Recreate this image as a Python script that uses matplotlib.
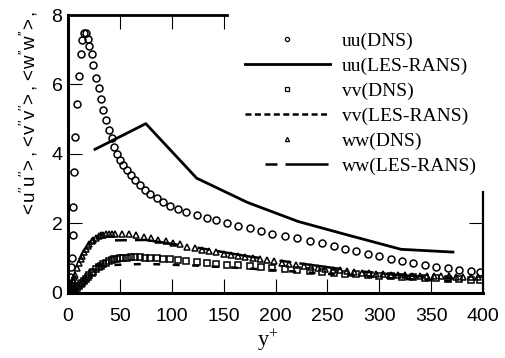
import matplotlib
matplotlib.use("Agg")
import matplotlib.pyplot as plt
from matplotlib.lines import Line2D

plt.rcParams['font.family'] = ['Liberation Sans', 'DejaVu Sans']
plt.rcParams['mathtext.fontset'] = 'custom'
plt.rcParams['mathtext.rm'] = 'Liberation Serif'
plt.rcParams['mathtext.it'] = 'Liberation Serif:italic'
plt.rcParams['mathtext.sf'] = 'Liberation Sans'
plt.rcParams['lines.scale_dashes'] = False

# ---- data ----
yplus_dns = [0.5, 1.2, 2.0, 2.8, 3.5, 4.5, 5.1, 5.8, 6.7, 9.0,
             10.6, 12.5, 13.8, 15.7, 17.4, 19.0, 20.6, 22.8, 24.4, 27.0,
             29.5, 31.5, 34.0, 36.6, 39.5, 42.0, 44.3, 46.9, 50.0, 53.3,
             56.5, 60.4, 64.6, 69.4, 74.2, 79.0, 85.5, 91.9, 98.3, 106,
             114, 124, 134, 143, 153, 164, 175, 186, 197, 209,
             221, 233, 245, 256, 267, 278, 289, 300, 311, 322,
             333, 344, 355, 366, 377, 388, 397]
uu_dns = [0.02, 0.15, 0.45, 0.75, 1.00, 1.65, 2.47, 3.47, 4.48, 5.45,
          6.24, 6.87, 7.28, 7.48, 7.48, 7.30, 7.12, 6.88, 6.56, 6.18,
          5.89, 5.58, 5.26, 4.97, 4.68, 4.46, 4.20, 4.01, 3.82, 3.67,
          3.53, 3.38, 3.24, 3.09, 2.97, 2.85, 2.74, 2.61, 2.51, 2.42,
          2.32, 2.23, 2.15, 2.08, 2.01, 1.93, 1.85, 1.77, 1.70, 1.64,
          1.58, 1.50, 1.42, 1.35, 1.27, 1.20, 1.12, 1.05, 0.98, 0.91,
          0.85, 0.80, 0.74, 0.70, 0.66, 0.63, 0.61]
vv_dns = [0.00, 0.00, 0.00, 0.01, 0.01, 0.02, 0.03, 0.05, 0.08, 0.13,
          0.18, 0.24, 0.28, 0.35, 0.40, 0.45, 0.50, 0.56, 0.61, 0.67,
          0.73, 0.77, 0.82, 0.87, 0.91, 0.94, 0.96, 0.98, 0.99, 1.00,
          1.01, 1.02, 1.02, 1.02, 1.01, 1.00, 0.99, 0.98, 0.96, 0.94,
          0.92, 0.89, 0.86, 0.84, 0.81, 0.79, 0.77, 0.74, 0.72, 0.69,
          0.66, 0.63, 0.60, 0.58, 0.55, 0.53, 0.51, 0.49, 0.47, 0.45,
          0.44, 0.42, 0.41, 0.40, 0.39, 0.38, 0.38]

yplus_ww = [0.5, 1.2, 2.0, 2.8, 3.5, 4.5, 5.1, 5.8, 6.7, 9.0,
            10.6, 12.5, 13.8, 15.7, 17.4, 19.0, 20.6, 22.8, 24.4, 27.0,
            29.5, 31.5, 34.0, 36.6, 39.5, 42.0,
            45, 52, 59, 66, 73, 80, 87, 94, 101, 108,
            115, 122, 129, 136, 143, 150, 157, 164, 171, 178,
            185, 192, 199, 206, 213, 220, 227, 234, 241, 248,
            255, 262, 269, 276, 283, 290, 297, 304, 311, 318,
            325, 332, 339, 346, 353, 360, 367, 374, 381, 388, 395]
ww_dns = [0.00, 0.03, 0.10, 0.17, 0.24, 0.33, 0.38, 0.44, 0.52, 0.72,
          0.85, 0.98, 1.06, 1.17, 1.26, 1.34, 1.40, 1.48, 1.53, 1.58,
          1.62, 1.65, 1.67, 1.69, 1.70, 1.70,
          1.70, 1.70, 1.68, 1.65, 1.61, 1.58, 1.53, 1.49, 1.44, 1.39,
          1.33, 1.28, 1.24, 1.20, 1.16, 1.12, 1.09, 1.06, 1.02, 0.99,
          0.96, 0.93, 0.90, 0.87, 0.84, 0.80, 0.77, 0.74, 0.72, 0.69,
          0.66, 0.64, 0.62, 0.60, 0.58, 0.56, 0.55, 0.54, 0.52, 0.51,
          0.50, 0.49, 0.49, 0.48, 0.47, 0.47, 0.47, 0.46, 0.46, 0.46, 0.46]

yplus_les = [26, 75, 124, 173, 222, 271, 321, 371]
uu_les = [4.13, 4.87, 3.30, 2.60, 2.05, 1.65, 1.25, 1.17]
vv_les = [0.78, 0.83, 0.78, 0.70, 0.60, 0.50, 0.40, 0.33]
ww_les = [1.50, 1.52, 1.30, 1.05, 0.85, 0.65, 0.50, 0.42]

labels = ['uu(DNS)', 'uu(LES-RANS)', 'vv(DNS)', 'vv(LES-RANS)',
          'ww(DNS)', 'ww(LES-RANS)']
xticks = [0, 50, 100, 150, 200, 250, 300, 350, 400]
yticks = [0, 2, 4, 6, 8]

# ---- figure ----
W, H = 506, 358
fig = plt.figure(figsize=(W / 100, H / 100), dpi=100)
ax = fig.add_axes([68 / W, 1 - 292.7 / H, 415 / W, 277.7 / H])

ax.plot(yplus_dns, uu_dns, ls='none', marker='o', ms=5.0, mfc='none',
        mec='black', mew=1.1, zorder=3)
ax.plot(yplus_dns, vv_dns, ls='none', marker='s', ms=4.6, mfc='none',
        mec='black', mew=1.1, zorder=3)
ax.plot(yplus_ww, ww_dns, ls='none', marker='^', ms=4.8, mfc='none',
        mec='black', mew=1.1, zorder=3)
ax.plot(yplus_les, uu_les, color='black', lw=2.0, zorder=4)
ax.plot(yplus_les, vv_les, color='black', lw=1.8, ls=(0, (5.0, 9.0)), zorder=4)
ax.plot(yplus_les, ww_les, color='black', lw=1.8,
        ls=(45.4, (8.6, 5.8, 31.0, 14.4)), zorder=4)

ax.set_xlim(0, 400)
ax.set_ylim(0, 8)
ax.set_xticks(xticks)
ax.set_yticks(yticks)
ax.tick_params(direction='in', length=10, width=0.8, labelsize=14, colors='black')
ax.tick_params(axis='x', pad=11)
ax.tick_params(axis='y', pad=4)

for s in ['left', 'bottom']:
    ax.spines[s].set_linewidth(2.2)
ax.spines['top'].set_linewidth(2.0)
ax.spines['right'].set_linewidth(1.6)
ax.spines['top'].set_bounds(0, 153)
ax.spines['right'].set_bounds(0, 2.9)

sx = ax.secondary_xaxis('top')
sx.set_xticks([50, 100, 150])
sx.set_xticklabels([])
sx.tick_params(direction='in', length=10, width=0.8)
sx.spines['top'].set_visible(False)
sy = ax.secondary_yaxis('right')
sy.set_yticks([2])
sy.set_yticklabels([])
sy.tick_params(direction='in', length=10, width=0.8)
sy.spines['right'].set_visible(False)

ax.set_xlabel(r'$\mathrm{y^{+}}$', fontsize=16, labelpad=0)
ax.xaxis.set_label_coords(0.48, -0.128)
ax.set_ylabel(r'$\mathsf{<\!u^{\prime\prime}u^{\prime\prime}\!>,<\!v^{\prime\prime}v^{\prime\prime}\!>,<\!w^{\prime\prime}w^{\prime\prime}\!>,}$',
              fontsize=13.5)
ax.yaxis.set_label_coords(-0.068, 0.643)

# legend proxies
proxies = [
    Line2D([], [], ls='none', marker='o', ms=3, mfc='none', mec='black', mew=0.9),
    Line2D([], [], color='black', lw=2.0),
    Line2D([], [], ls='none', marker='s', ms=3, mfc='none', mec='black', mew=0.9),
    Line2D([], [], color='black', lw=1.8, ls=(0, (4.3, 2.5))),
    Line2D([], [], ls='none', marker='^', ms=3, mfc='none', mec='black', mew=0.9),
    Line2D([], [], color='black', lw=1.8, ls=(45.4, (8.6, 5.8, 31.0, 14.4))),
]
leg = fig.legend(proxies, labels, loc='upper left',
                 bbox_to_anchor=(245 / W, 1 - 32 / H),
                 frameon=False, prop={'family': 'Liberation Serif', 'size': 14},
                 handlelength=4.37, handletextpad=0.62, labelspacing=0.38,
                 borderpad=0, borderaxespad=0)

fig.savefig('out.png', dpi=100)
